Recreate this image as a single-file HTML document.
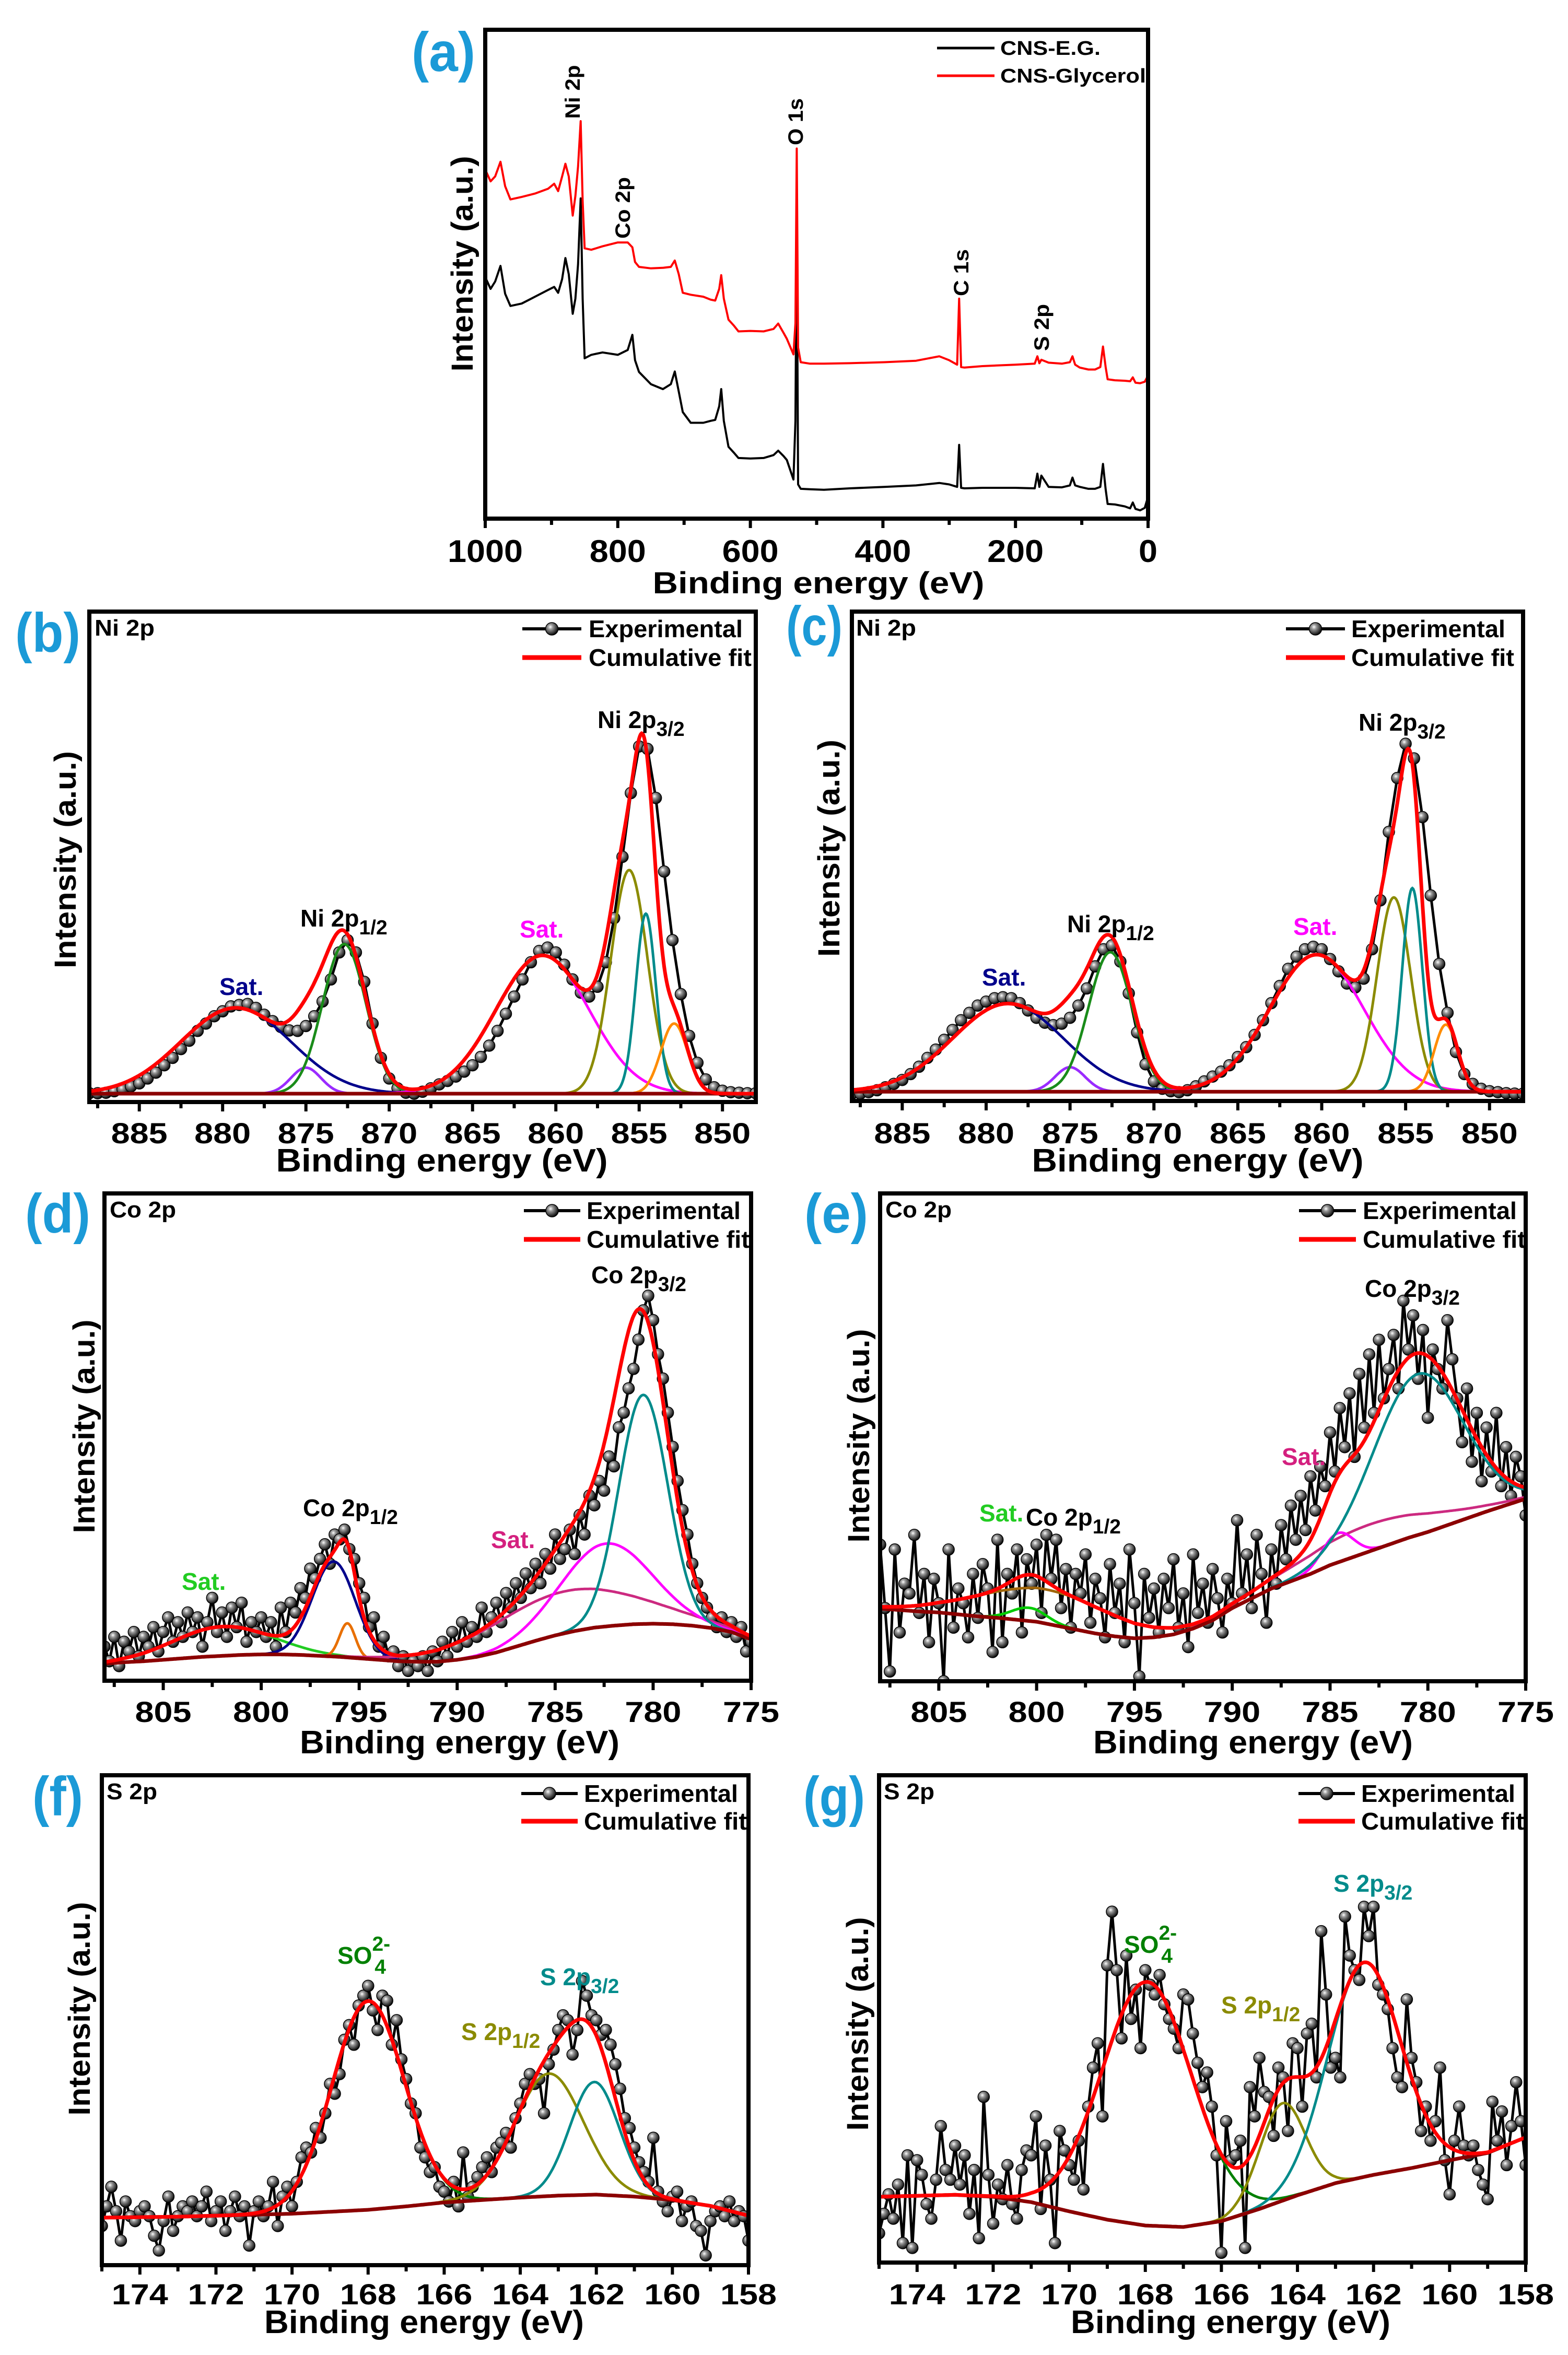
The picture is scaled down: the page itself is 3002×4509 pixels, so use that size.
<!DOCTYPE html>
<html><head><meta charset="utf-8"><title>XPS spectra</title>
<style>
html,body{margin:0;padding:0;background:#fff;}
svg{display:block;font-family:"Liberation Sans",Arial,sans-serif;}
</style></head>
<body>
<svg id="fig" xmlns="http://www.w3.org/2000/svg" width="3002" height="4509" viewBox="0 0 3002 4509">
<defs>
<radialGradient id="ball" cx="38%" cy="35%" r="65%">
<stop offset="0" stop-color="#ffffff"/><stop offset="0.3" stop-color="#9a9a9a"/><stop offset="1" stop-color="#0a0a0a"/>
</radialGradient>
</defs>
<rect x="0" y="0" width="3002" height="4509" fill="#fff"/>
</svg>
<script>
// ===== Panel (a) survey data =====
const surveyE = [1000,992,985,977,970,962,945,925,905,896,890,884,879,874,868,864,860,856,853,850,840,823,800,785,778,774,768,750,732,720,714,708,702,690,671,660,653,647,644,640,633,625,618,600,580,565,558,550,545,535,532,530,528,524,510,489,450,398,350,315,300,288,285,282,277,250,200,171,167,164,161,150,130,118,114,110,103,90,80,72,68,64,61,50,35,27,23,19,12,5,0];
const surveyRed = [71.4,69,70,73,68,65.3,65.8,66.5,67.5,68.5,67,70,72.6,70,62,66,72,81.3,65,55.3,55,55.7,56.5,56.5,55.5,52.5,51.5,51.2,51.3,51.5,52.8,50,46.2,45.8,45.4,44.8,44.6,47,49.8,45,40.7,39.5,38.3,38.4,38.3,38.8,39.9,38,36.8,33.6,40,75.7,35,32,31.7,31.7,31.8,32,32.3,33.2,32.4,31.5,45,31,30.9,31.2,31.5,31.7,33.2,31.8,32.5,31.9,31.7,32,33.2,31.5,30.9,30.5,30.5,31,35.2,31,28.5,28.3,28.2,28.1,28.9,27.8,27.7,28,29.3];
const surveyBlack = [49.4,47,48.5,51.7,46,43.5,44,45.4,46.8,47.4,46.2,49,53.3,50,41.9,45,52,65.5,45,32.8,33.5,34,33.5,34.5,37.6,32.4,30,27.5,26.5,27.5,30.1,26,21.8,19.6,19.6,20,20.2,23,26.5,20,14.7,13.5,12.4,12.3,12.4,13,13.9,12.8,12,8,20,62,7,6.1,6,5.9,6.2,6.5,6.8,7.3,7,6.5,15.1,6.3,6.2,6.3,6.3,6.2,9.2,6.5,8.8,6.5,6.4,6.8,8.4,6.8,6.5,6.1,6.1,6.5,11.2,6,3,2.9,2.5,2.1,3.3,2,1.7,2.2,4.5];
const surveyTicks = [1000,800,600,400,200,0];

// ===== Panel (b) Ni 2p =====
const bExp = [1.8,1.8,1.9,2.2,2.6,3.2,3.8,4.8,6,7.5,9,10.8,12.5,14.5,16,17.5,18.5,19.5,19.8,20,19.2,17.8,16.5,15.3,14.6,14.5,15.5,17.5,20.5,25,30.5,33,30.5,24.5,16,9,4.8,2.8,1.9,1.7,2.1,2.8,3.6,4.3,5.2,6.2,7.5,9.2,11.5,14.5,18,21.5,25,28.5,30.8,31.5,30.5,28,25,22.3,21.5,23.5,28.5,37.5,50,63,72.5,72,62,47,33,22,13.5,8,4.6,3,2.3,2,1.9,1.8,1.8];
const bCenters = [879.2,875,872.7,860.8,855.6,854.6,852.9];
const bHeights = [17.5,5.3,30.5,28.2,45.6,36.7,14.3];
const bSigmas = [3.3,0.9,1.3,2.8,1.1,0.6,0.8];
const bBg = [1.7,1.7];
const niTicks = [885,880,875,870,865,860,855,850];

// ===== Panel (c) Ni 2p =====
const cExp = [1.5,1.5,1.8,2.2,2.8,3.5,4.3,5.5,7,8.8,10.5,12.5,14.5,16.5,18,19.5,20.3,21,21.2,21,20,18.5,17,16,15.5,15.8,17,19.5,23,27.5,31,31.8,28.5,22,14,7.5,4,2.5,2,1.8,2.2,3,4,5,6,7.3,9,11,13.5,16.5,20,23.5,27,29.5,31,31.5,31,29,26.5,24,23.2,25,31,41,55,66,73,70,58,42,28,18,10,5.5,3.5,2.5,2,1.8,1.6,1.5,1.5];
const cCenters = [878.7,875,872.6,860.3,855.7,854.6,852.6];
const cHeights = [18,5,28.5,28,39.7,41.6,13.7];
const cSigmas = [3.3,0.9,1.3,2.8,1.0,0.6,0.7];
const cBg = [1.9,1.9];

// ===== Panel (d) Co 2p =====
const dExp = [7,4,9,3,8,6,10,5,9,7,11,6,10,13,8,12,9,14,10,13,7,12,17,10,14,9,15,11,16,8,12,10,13,
9,12,7,15,10,16,14,19,17,23,21,25,28,24,30,29,31,27,25,20,17,11,13,7,9,5,6,3,5,2,4,3,5,2,6,4,8,5,10,7,
12,8,11,9,15,10,13,16,12,18,15,20,17,22,19,24,20,26,23,30,25,27,31,26,34,30,38,36,41,39,46,44,52,55,60,64,70,76,79,74,
67,62,55,48,41,35,30,24,20,17,15,13,11,13,10,12,9,11,6,8];
const dCenters = [802,796.3,795.6,784.6,782.4,780.5];
const dHeights = [6,19.5,7,8.6,17,47];
const dSigmas = [2.5,1.1,0.4,4,2.3,1.25];
const dBg = [3.5,3.8,4,4.3,4.6,4.9,5.1,5.3,5.4,5.4,5.3,5.1,4.9,4.6,4.3,4.0,3.9,3.9,4.3,4.9,5.8,7,8.2,9.3,10.2,10.9,11.3,11.6,11.7,11.6,11.3,10.8,10,8.5];
const coTicks = [805,800,795,790,785,780,775];

// ===== Panel (e) Co 2p =====
const eExp = [28,15,2,27,10,20,18,30,14,22,8,21,16,
0,27,11,19,16,9,22,13,24,19,6,29,8,22,18,27,10,25,20,28,
14,30,21,29,15,23,11,22,18,26,12,21,17,9,24,14,20,8,27,16,
1,22,13,19,10,21,15,25,11,18,7,26,14,20,12,23,17,10,21,16,
33,18,26,15,30,22,12,27,20,32,25,36,29,38,31,42,35,44,40,51,
43,56,48,59,46,63,52,67,55,70,58,64,71,60,78,68,75,62,72,54,
68,64,60,74,66,58,49,60,45,55,41,52,43,55,40,48,38,46,42,34];
const eCenters = [799.5,800.4,783,784.6,780.5];
const eHeights = [7,2.7,5.5,6,33];
const eSigmas = [3.5,0.9,3.5,0.8,2.3];
const eBg = [14.9,14.6,14.3,14.1,13.7,13.3,13,12.6,12.2,11.4,10.6,9.8,9.2,8.8,9,9.6,10.8,12.5,15,17,19,20.5,22,23.8,25.2,26.6,28,29.4,30.6,32,33.4,34.8,36.1,37.4];

// ===== Panel (f) S 2p =====
const fExp = [8,12,16,11,5,13,10,9,11,12,10,6,3,9,14,7,10,12,11,13,10,12,15,9,11,13,7,11,14,10,12,4,11,13,10,12,17,
8,14,16,12,17,22,24,23,28,26,31,37,35,39,46,49,45,53,55,57,
52,48,55,54,45,50,42,38,33,31,24,22,19,20,16,15,
13,17,12,23,14,16,18,20,22,19,24,25,27,24,30,33,37,39,37,38,31,41,44,48,51,50,43,48,58,55,51,50,47,48,45,41,36,30,28,24,21,19,17,26,15,13,11,14,15,9,12,13,8,7,2,9,11,12,10,13,9,11,10,5];
const fCenters = [168,163.25,162.05];
const fHeights = [42.6,25,23];
const fSigmas = [0.95,0.9,0.65];
const fBg = [9.7,9.8,9.9,10.1,10.3,10.5,10.9,11.3,12,12.8,13.3,13.8,14.2,14.4,14,13.3,12.1,10.1];
const sTicks = [174,172,170,168,166,164,162,160,158];

// ===== Panel (g) S 2p =====
const gExp = [6,10,14,9,16,4,22,3,21,18,12,9,17,28,19,17,24,16,22,10,19,5,34,18,8,16,13,20,12,9,19,23,22,30,11,24,17,
4,27,23,20,17,25,15,32,40,45,30,61,72,60,46,63,50,56,44,60,57,55,59,53,50,48,44,55,54,47,
41,36,39,32,22,2,29,21,22,25,3,36,30,42,35,34,26,40,38,27,45,44,32,47,49,38,68,55,40,42,
38,71,63,60,58,73,67,73,57,55,52,44,38,36,54,42,37,27,32,25,29,40,21,14,25,32,24,22,24,19,16,13,33,25,31,20,28,37,29,20];
const gCenters = [167.95,164.4,162.25];
const gHeights = [50,20,44];
const gSigmas = [1.19,0.6,0.95];
const gBg = [13.5,13.7,13.9,13.5,12.4,10.5,8.8,7.6,7.3,8.5,11,13.8,16.3,18,19.4,21,22.5,25.7];

const NS = 'http://www.w3.org/2000/svg';
const svg = document.getElementById('fig');
const FONT = '"Liberation Sans", Arial, sans-serif';
function mk(tag, parent){ const e = document.createElementNS(NS, tag); parent.appendChild(e); return e; }
function at(e, o){ for (const k in o) e.setAttribute(k, o[k]); return e; }

function txt(parent, name, s, x, y, size, opts){
  const t = mk('text', parent);
  
  
  at(t, {x:x, y:y, 'font-size':size, 'font-weight':'bold', fill:(opts&&opts.fill)||'#000', 'font-family':FONT});
  if (opts && opts.anchor) t.setAttribute('text-anchor', opts.anchor);
  if (opts && opts.len){ t.setAttribute('textLength', opts.len); t.setAttribute('lengthAdjust','spacingAndGlyphs'); }
  if (opts && opts.rot) t.setAttribute('transform', 'rotate(-90 '+x+' '+y+')');
  t.textContent = s;
  return t;
}
function subLabel(parent, name, main, sub, x, y, size, fill){
  const t = mk('text', parent);
  
  
  at(t, {x:x, y:y, 'font-size':size, 'font-weight':'bold', fill:fill, 'font-family':FONT});
  t.appendChild(document.createTextNode(main));
  const ts = mk('tspan', t);
  at(ts, {dy: Math.round(size*0.32), 'font-size': Math.round(size*0.85)});
  ts.textContent = sub;
  return t;
}
function so4Label(parent, x, y, size, fill){
  const t = mk('text', parent);
  
  
  at(t, {x:x, y:y, 'font-size':size, 'font-weight':'bold', fill:fill, 'font-family':FONT});
  t.appendChild(document.createTextNode('SO'));
  const s1 = mk('tspan', t); at(s1, {dy: -Math.round(size*0.55), 'font-size':Math.round(size*0.85)}); s1.textContent = '2-';
  const s2 = mk('tspan', t); at(s2, {x: x + size*1.55, dy: Math.round(size*0.95), 'font-size':Math.round(size*0.85)}); s2.textContent = '4';
  return t;
}
function blueLabel(parent, name, s, x, yb, w){
  return txt(parent, name, s, x, yb, 106, {fill:'#1b9ad7', len:w});
}

function bgAt(arr, start, step, e){
  if (arr.length < 2) return arr[0];
  let i = (start - e) / step;
  if (i <= 0) return arr[0];
  if (i >= arr.length - 1) return arr[arr.length-1];
  const k = Math.floor(i), f = i - k;
  return arr[k]*(1-f) + arr[k+1]*f;
}

function spectrumPanel(p){
  const g = mk('g', svg);
  
  
  const X = e => p.x0 + (p.eMax - e)/(p.eMax - p.eMin)*(p.x1 - p.x0);
  const Y = v => p.y1 - v/100*(p.y1 - p.y0);
  const cp = mk('clipPath', g); cp.setAttribute('id', p.name+'-clip');
  at(mk('rect', cp), {x:p.x0, y:p.y0, width:p.x1-p.x0, height:p.y1-p.y0});
  const plot = mk('g', g);
  
  
  plot.setAttribute('clip-path', 'url(#'+p.name+'-clip)');

  // experimental
  const pts = p.exp.map((v,k) => [X(p.expStart - k*p.expStep), Y(v)]);
  const line = mk('polyline', plot);
  
  
  at(line, {points: pts.map(q=>q[0].toFixed(1)+','+q[1].toFixed(1)).join(' '), fill:'none', stroke:'#000', 'stroke-width':5, 'stroke-linejoin':'round'});
  const mg = mk('g', plot);
  
  
  pts.forEach(q => {
    const c = mk('circle', mg);
    
    
    at(c, {cx:q[0].toFixed(1), cy:q[1].toFixed(1), r:11, fill:'url(#ball)', stroke:'#000', 'stroke-width':1.5});
  });

  // fitted components
  const es = [];
  for (let e = p.eMax; e >= p.eMin - 1e-9; e -= 0.05) es.push(e);
  const bgv = es.map(e => bgAt(p.bg, p.bgStart, p.bgStep, e));
  const cum = bgv.slice();
  p.centers.forEach((c, i) => {
    const vals = es.map((e, k) => p.heights[i]*Math.exp(-(e-c)*(e-c)/(2*p.sigmas[i]*p.sigmas[i])));
    vals.forEach((v,k) => cum[k] += v);
    const pl = mk('polyline', plot);
    
    
    at(pl, {points: es.map((e,k)=>X(e).toFixed(1)+','+Y(bgv[k]+vals[k]).toFixed(1)).join(' '), fill:'none', stroke:p.colors[i], 'stroke-width':5});
  });
  const bl = mk('polyline', plot);
  
  
  at(bl, {points: es.map((e,k)=>X(e).toFixed(1)+','+Y(bgv[k]).toFixed(1)).join(' '), fill:'none', stroke:'#8b0000', 'stroke-width':7});
  const cl = mk('polyline', plot);
  
  
  at(cl, {points: es.map((e,k)=>X(e).toFixed(1)+','+Y(cum[k]).toFixed(1)).join(' '), fill:'none', stroke:'#ff0000', 'stroke-width':7});

  // frame
  const fr = mk('rect', g);
  
  
  at(fr, {x:p.x0, y:p.y0, width:p.x1-p.x0, height:p.y1-p.y0, fill:'none', stroke:'#000', 'stroke-width':8});

  // ticks
  for (let e = Math.ceil(p.eMin/p.minor)*p.minor; e <= p.eMax + 1e-9; e += p.minor){
    const major = p.ticks.some(t => Math.abs(t-e) < 1e-6);
    const tk = mk('line', g);
    
    
    at(tk, {x1:X(e), x2:X(e), y1:p.y1, y2:p.y1 + (major?18:12), stroke:'#000', 'stroke-width':6});
  }
  p.ticks.forEach(t => {
    txt(g, 'x-tick-label', String(t), X(t), p.tickY + 20, 56, {anchor:'middle', len: String(t).length*36});
  });
  txt(g, 'x-axis-title', 'Binding energy (eV)', p.xtX, p.xtY + 20, 62, {anchor:'middle', len:p.xtLen});
  txt(g, 'y-axis-title', 'Intensity (a.u.)', p.ytX + 20, p.ytY, 58, {anchor:'middle', len:p.ytLen, rot:true});
  txt(g, 'core-level-label', p.core, p.coreX, p.coreY, 44, {len:p.coreLen});
  blueLabel(g, 'panel-label', p.letter, p.lx, p.ly, p.lw);

  // legend
  const lg = mk('g', g);
  
  
  const l1 = mk('line', lg);
  
  
  at(l1, {x1:p.legX0, x2:p.legX1, y1:p.legY1, y2:p.legY1, stroke:'#000', 'stroke-width':6});
  const lc = mk('circle', lg);
  
  
  at(lc, {cx:(p.legX0+p.legX1)/2, cy:p.legY1, r:12, fill:'url(#ball)', stroke:'#000', 'stroke-width':1.5});
  const l2 = mk('line', lg);
  
  
  at(l2, {x1:p.legX0, x2:p.legX1, y1:p.legY2, y2:p.legY2, stroke:'#ff0000', 'stroke-width':9});
  txt(lg, 'legend-experimental-text', 'Experimental', p.legTX, p.legY1 + 16, 46, {len:295});
  txt(lg, 'legend-fit-text', 'Cumulative fit', p.legTX, p.legY2 + 16, 46, {len:312});
  p.labels(g);
  return g;
}

// ===== Panel (a) =====
(function(){
  const p = {x0:929, x1:2198, y0:57, y1:993, eMax:1000, eMin:0};
  const g = mk('g', svg);
  
  
  const X = e => p.x0 + (p.eMax - e)/(p.eMax - p.eMin)*(p.x1 - p.x0);
  const Y = v => p.y1 - v/100*(p.y1 - p.y0);
  const b = mk('polyline', g);
  
  
  at(b, {points: surveyE.map((e,k)=>X(e).toFixed(1)+','+Y(surveyBlack[k]).toFixed(1)).join(' '), fill:'none', stroke:'#000', 'stroke-width':4, 'stroke-linejoin':'round'});
  const r = mk('polyline', g);
  
  
  at(r, {points: surveyE.map((e,k)=>X(e).toFixed(1)+','+Y(surveyRed[k]).toFixed(1)).join(' '), fill:'none', stroke:'#ff0000', 'stroke-width':4, 'stroke-linejoin':'round'});
  const fr = mk('rect', g);
  
  
  at(fr, {x:p.x0, y:p.y0, width:p.x1-p.x0, height:p.y1-p.y0, fill:'none', stroke:'#000', 'stroke-width':8});
  for (let e = 0; e <= 1000; e += 100){
    const major = surveyTicks.indexOf(e) >= 0;
    const tk = mk('line', g);
    
    
    at(tk, {x1:X(e), x2:X(e), y1:p.y1, y2:p.y1 + (major?18:12), stroke:'#000', 'stroke-width':6});
  }
  surveyTicks.forEach(t => txt(g, 'x-tick-label', String(t), X(t), 1076, 60, {anchor:'middle', len:String(t).length*36}));
  txt(g, 'x-axis-title', 'Binding energy (eV)', 1567, 1136, 58, {anchor:'middle', len:635});
  txt(g, 'y-axis-title', 'Intensity (a.u.)', 905, 505, 58, {anchor:'middle', len:413, rot:true});
  blueLabel(g, 'panel-label', '(a)', 788, 136, 122);
  [['Ni 2p',1110,176,103],['Co 2p',1206,398,118],['O 1s',1537,233,90],['C 1s',1854,522,90],['S 2p',2008,627,90]].forEach(a => {
    txt(g, 'peak-annotation', a[0], a[1], a[2], 40, {anchor:'middle', len:a[3], rot:true});
  });
  const l1 = mk('line', g);
  
  
  at(l1, {x1:1794, x2:1904, y1:92, y2:92, stroke:'#000', 'stroke-width':5});
  const l2 = mk('line', g);
  
  
  at(l2, {x1:1794, x2:1904, y1:145, y2:145, stroke:'#ff0000', 'stroke-width':5});
  txt(g, 'legend-cns-eg-text', 'CNS-E.G.', 1915, 105, 38, {len:192});
  txt(g, 'legend-cns-glycerol-text', 'CNS-Glycerol', 1915, 158, 38, {len:279});
})();

const niColors = ['#00008b','#9a2bff','#1a8c1a','#ff00ff','#8b8b00','#008b8b','#ff8c00'];

spectrumPanel({name:'panel-b-ni2p', letter:'(b)', lx:29, ly:1248, lw:125,
  x0:171, x1:1447, y0:1171, y1:2110, eMax:888, eMin:848,
  exp:bExp, expStart:888, expStep:0.5, centers:bCenters, heights:bHeights, sigmas:bSigmas, colors:niColors,
  bg:bBg, bgStart:888, bgStep:40, ticks:niTicks, minor:2.5, tickY:2169,
  xtX:846, xtY:2223, xtLen:635, ytX:125, ytY:1646, ytLen:416,
  core:'Ni 2p', coreX:181, coreY:1217, coreLen:115,
  legX0:1000, legX1:1113, legY1:1204, legY2:1259, legTX:1127,
  labels: g => {
    subLabel(g, 'ni-2p32-label', 'Ni 2p', '3/2', 1144, 1394, 46, '#000');
    subLabel(g, 'ni-2p12-label', 'Ni 2p', '1/2', 575, 1774, 46, '#000');
    txt(g, 'sat-label', 'Sat.', 420, 1905, 46, {fill:'#00008b'});
    txt(g, 'sat-label', 'Sat.', 995, 1795, 46, {fill:'#ff00ff'});
  }});

spectrumPanel({name:'panel-c-ni2p', letter:'(c)', lx:1505, ly:1235, lw:108,
  x0:1631, x1:2916, y0:1171, y1:2108, eMax:888, eMin:848,
  exp:cExp, expStart:888, expStep:0.5, centers:cCenters, heights:cHeights, sigmas:cSigmas, colors:niColors,
  bg:cBg, bgStart:888, bgStep:40, ticks:niTicks, minor:2.5, tickY:2169,
  xtX:2293, xtY:2223, xtLen:635, ytX:1587, ytY:1624, ytLen:416,
  core:'Ni 2p', coreX:1639, coreY:1217, coreLen:115,
  legX0:2462, legX1:2575, legY1:1204, legY2:1259, legTX:2587,
  labels: g => {
    subLabel(g, 'ni-2p32-label', 'Ni 2p', '3/2', 2601, 1399, 46, '#000');
    subLabel(g, 'ni-2p12-label', 'Ni 2p', '1/2', 2043, 1785, 46, '#000');
    txt(g, 'sat-label', 'Sat.', 1880, 1887, 46, {fill:'#00008b'});
    txt(g, 'sat-label', 'Sat.', 2476, 1790, 46, {fill:'#ff00ff'});
  }});

spectrumPanel({name:'panel-d-co2p', letter:'(d)', lx:48, ly:2360, lw:125,
  x0:200, x1:1438, y0:2285, y1:3218, eMax:808, eMin:775,
  exp:dExp, expStart:808, expStep:0.25, centers:dCenters, heights:dHeights, sigmas:dSigmas,
  colors:['#22cc22','#00008b','#e86f00','#cc2a80','#ff00ff','#008b8b'],
  bg:dBg, bgStart:808, bgStep:1, ticks:coTicks, minor:2.5, tickY:3277,
  xtX:880, xtY:3337, xtLen:612, ytX:161, ytY:2731, ytLen:409,
  core:'Co 2p', coreX:210, coreY:2331, coreLen:127,
  legX0:1003, legX1:1111, legY1:2318, legY2:2373, legTX:1123,
  labels: g => {
    subLabel(g, 'co-2p32-label', 'Co 2p', '3/2', 1132, 2457, 46, '#000');
    subLabel(g, 'co-2p12-label', 'Co 2p', '1/2', 580, 2903, 46, '#000');
    txt(g, 'sat-label', 'Sat.', 940, 2964, 46, {fill:'#d4207f'});
    txt(g, 'sat-label', 'Sat.', 348, 3044, 46, {fill:'#22cc22'});
  }});

spectrumPanel({name:'panel-e-co2p', letter:'(e)', lx:1540, ly:2360, lw:122,
  x0:1685, x1:2921, y0:2285, y1:3219, eMax:808, eMin:775,
  exp:eExp, expStart:808, expStep:0.25, centers:eCenters, heights:eHeights, sigmas:eSigmas,
  colors:['#a0660a','#00cc00','#cc2a80','#ff00ff','#008b8b'],
  bg:eBg, bgStart:808, bgStep:1, ticks:coTicks, minor:2.5, tickY:3277,
  xtX:2399, xtY:3337, xtLen:612, ytX:1644, ytY:2749, ytLen:409,
  core:'Co 2p', coreX:1695, coreY:2331, coreLen:127,
  legX0:2487, legX1:2596, legY1:2318, legY2:2373, legTX:2609,
  labels: g => {
    subLabel(g, 'co-2p32-label', 'Co 2p', '3/2', 2613, 2483, 46, '#000');
    subLabel(g, 'co-2p12-label', 'Co 2p', '1/2', 1964, 2921, 46, '#000');
    txt(g, 'sat-label', 'Sat.', 2454, 2805, 46, {fill:'#d4207f'});
    txt(g, 'sat-label', 'Sat.', 1875, 2913, 46, {fill:'#22cc22'});
  }});

spectrumPanel({name:'panel-f-s2p', letter:'(f)', lx:62, ly:3476, lw:97,
  x0:195, x1:1433, y0:3399, y1:4337, eMax:175, eMin:158,
  exp:fExp, expStart:175, expStep:0.125, centers:fCenters, heights:fHeights, sigmas:fSigmas,
  colors:['#008000','#8b8b00','#008b8b'],
  bg:fBg, bgStart:175, bgStep:1, ticks:sTicks, minor:1, tickY:4392,
  xtX:812, xtY:4447, xtLen:612, ytX:152, ytY:3846, ytLen:409,
  core:'S 2p', coreX:204, coreY:3445, coreLen:97,
  legX0:998, legX1:1106, legY1:3434, legY2:3487, legTX:1118,
  labels: g => {
    so4Label(g, 646, 3760, 46, '#008000');
    subLabel(g, 's-2p32-label', 'S 2p', '3/2', 1034, 3801, 46, '#008b8b');
    subLabel(g, 's-2p12-label', 'S 2p', '1/2', 883, 3906, 46, '#8b8b00');
  }});

spectrumPanel({name:'panel-g-s2p', letter:'(g)', lx:1538, ly:3476, lw:118,
  x0:1683, x1:2921, y0:3399, y1:4332, eMax:175, eMin:158,
  exp:gExp, expStart:175, expStep:0.125, centers:gCenters, heights:gHeights, sigmas:gSigmas,
  colors:['#008000','#8b8b00','#008b8b'],
  bg:gBg, bgStart:175, bgStep:1, ticks:sTicks, minor:1, tickY:4392,
  xtX:2356, xtY:4447, xtLen:612, ytX:1642, ytY:3875, ytLen:409,
  core:'S 2p', coreX:1692, coreY:3445, coreLen:97,
  legX0:2486, legX1:2594, legY1:3434, legY2:3487, legTX:2606,
  labels: g => {
    so4Label(g, 2152, 3739, 46, '#008000');
    subLabel(g, 's-2p32-label', 'S 2p', '3/2', 2553, 3622, 46, '#008b8b');
    subLabel(g, 's-2p12-label', 'S 2p', '1/2', 2338, 3855, 46, '#8b8b00');
  }});
</script>
</body></html>
